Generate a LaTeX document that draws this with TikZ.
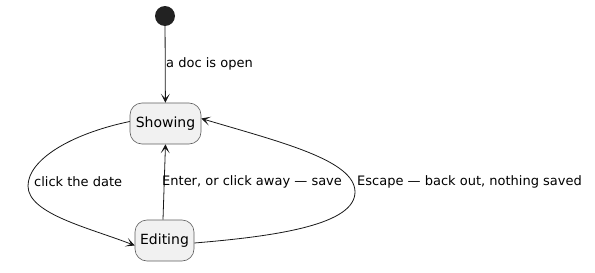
\documentclass[tikz,border=0pt]{standalone}
\usepackage{fontspec}
\setmainfont{DejaVu Sans}
\usetikzlibrary{arrows.meta}
\definecolor{boxfill}{HTML}{F1F1F1}
\definecolor{boxline}{HTML}{5E5E5E}
\definecolor{ink}{HTML}{181818}
\definecolor{dot}{HTML}{222222}
\begin{document}
\begin{tikzpicture}[x=1pt,y=-1pt,
  state/.style={draw=boxline,fill=boxfill,rounded corners=12pt,line width=0.6pt,
    font=\fontsize{14}{16}\selectfont,text=black,inner sep=0pt},
  lbl/.style={font=\fontsize{13}{15}\selectfont,text=black,inner sep=0pt,anchor=west},
  conn/.style={draw=ink,line width=0.8pt,-{Stealth[length=9pt,width=9pt,inset=5pt]}}]
\useasboundingbox (0,0) rectangle (595,273);
\node[circle,fill=dot,minimum size=20pt,inner sep=0pt] (init) at (165,16) {};
\node[state,minimum width=71pt,minimum height=41pt] (showing) at (165.5,123.5) {Showing};
\node[state,minimum width=59pt,minimum height=41pt] (editing) at (164.5,240.5) {Editing};
\draw[conn] (init) -- (showing);
\node[lbl] (l1) at (166,64) {a doc is open};
\draw[conn] ([yshift=2pt]showing.west) .. controls (70,134) and (28,160) .. (28,186)
  .. controls (28,214) and (90,228) .. ([yshift=-5pt]editing.west);
\node[lbl] (l2) at (34,182) {click the date};
\draw[conn] ([xshift=-1.5pt]editing.north) -- (showing.south);
\node[lbl] (l3) at (162,182) {Enter, or click away — save};
\draw[conn] ([yshift=-2.5pt]editing.east) .. controls (280,236) and (355,224) .. (355,192)
  .. controls (355,160) and (280,142) .. ([yshift=5pt]showing.east);
\node[lbl] (l4) at (357,182) {Escape — back out, nothing saved};
\end{tikzpicture}
\end{document}
